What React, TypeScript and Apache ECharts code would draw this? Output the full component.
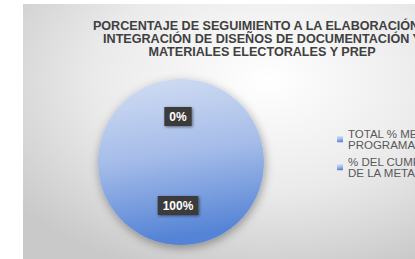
import React, { useEffect, useRef } from "react";
import * as echarts from "echarts";

const titleLines = [
  "PORCENTAJE DE SEGUIMIENTO A LA ELABORACIÓN E",
  "INTEGRACIÓN DE DISEÑOS DE DOCUMENTACIÓN Y",
  "MATERIALES ELECTORALES Y PREP",
];
const categories = ["TOTAL % META\nPROGRAMADA", "% DEL CUMPLIMIENTO\nDE LA META"];
const values = [0, 100];

const blueFill = {
  type: "linear",
  x: 0,
  y: 0,
  x2: 0.15,
  y2: 1,
  colorStops: [
    { offset: 0, color: "#d3def3" },
    { offset: 0.5, color: "#a6bde9" },
    { offset: 1, color: "#5584d6" },
  ],
};

export default function App() {
  const ref = useRef<HTMLDivElement>(null);
  useEffect(() => {
    if (!ref.current) return;
    const chart = echarts.init(ref.current, undefined, { renderer: "svg" });
    const lh = 11.5;
    chart.setOption({
      animation: false,
      graphic: [
        {
          type: "rect",
          z: -10,
          silent: true,
          shape: { x: 0, y: 0, width: 392, height: 255 },
          style: {
            fill: {
              type: "radial",
              x: 0.62,
              y: 0.3,
              r: 0.8,
              colorStops: [
                { offset: 0, color: "#ffffff" },
                { offset: 0.55, color: "#eaeaea" },
                { offset: 1, color: "#c9c9c9" },
              ],
            },
          },
        },
      ],
      title: {
        text: titleLines.join("\n"),
        left: "center",
        top: 16,
        padding: 0,
        textStyle: {
          fontFamily: "Liberation Sans",
          fontSize: 12.6,
          fontWeight: "bold",
          color: "#404040",
          lineHeight: 12.6,
        },
      },
      legend: {
        orient: "vertical",
        left: 314,
        top: 118,
        padding: 0,
        itemGap: -6.5,
        itemWidth: 6,
        itemHeight: 6,
        icon: "rect",
        data: categories,
        textStyle: {
          fontFamily: "Liberation Sans",
          fontSize: 11.5,
          color: "#595959",
          lineHeight: lh,
          padding: [lh, 0, 0, 0],
        },
      },
      series: [
        {
          type: "pie",
          center: [158, 158],
          radius: [0, 83],
          startAngle: 90,
          clockwise: true,
          data: categories.map((name, i) => ({ name, value: values[i] })),
          itemStyle: {
            color: blueFill,
            borderWidth: 0,
            shadowBlur: 10,
            shadowColor: "rgba(0,0,0,0.35)",
            shadowOffsetX: 1,
            shadowOffsetY: 3,
          },
          label: {
            show: true,
            position: "inside",
            offset: [-3, -1],
            formatter: (p: any) => Math.round(p.percent) + "%",
            fontFamily: "Liberation Sans",
            fontSize: 12,
            fontWeight: "bold",
            color: "#ffffff",
            backgroundColor: "#3a3a3a",
            padding: [4, 5, 3, 5],
            shadowBlur: 3,
            shadowColor: "rgba(0,0,0,0.5)",
            shadowOffsetX: 1,
            shadowOffsetY: 1,
          },
          labelLine: { show: false },
          emphasis: { disabled: true },
        },
      ],
    });
    return () => chart.dispose();
  }, []);
  return (
    <div
      style={{
        position: "absolute",
        left: 23,
        top: 4,
        width: 392,
        height: 255,
        overflow: "hidden",
      }}
    >
      <div ref={ref} style={{ width: 478, height: 255 }} />
    </div>
  );
}
